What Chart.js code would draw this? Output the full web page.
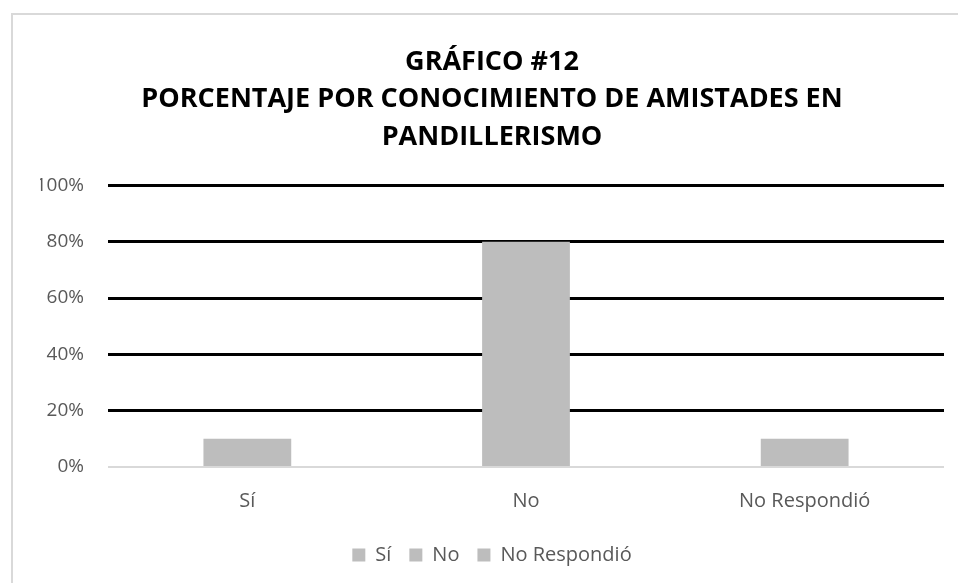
<!DOCTYPE html>
<html>
<head>
<meta charset="utf-8">
<script src="https://cdn.jsdelivr.net/npm/chart.js@4"></script>
<style>
    html, body { margin: 0; padding: 0; background: #fff; }
    #frame {
        position: absolute; left: 11px; top: 13px;
        width: 945px; height: 568px;
        border: 2px solid #d9d9d9;
        border-right: none; border-bottom: none;
    }
    #frame canvas { display: block; }
</style>
</head>
<body>
<div id="frame"><canvas id="chart12" width="945" height="568"></canvas></div>
<script>
const categories = ['Sí', 'No', 'No Respondió'];
const percentages = [0.10, 0.80, 0.10];
const yTicks = [0, 0.2, 0.4, 0.6, 0.8, 1];
const titleLines = ['GRÁFICO #12', 'PORCENTAJE POR CONOCIMIENTO DE AMISTADES EN', 'PANDILLERISMO'];

const barGray = '#bdbdbd';
const textGray = '#595959';

const ctx = document.getElementById('chart12').getContext('2d');
new Chart(ctx, {
    type: 'bar',
    data: {
        labels: categories,
        datasets: [{
            data: percentages,
            backgroundColor: barGray,
            categoryPercentage: 1,
            barPercentage: 0.315
        }]
    },
    options: {
        responsive: false,
        animation: false,
        layout: { padding: { left: 27, right: 14, top: 20, bottom: 8 } },
        scales: {
            x: {
                grid: { display: false },
                border: { display: false },
                ticks: {
                    color: textGray,
                    padding: 14,
                    font: { family: 'Open Sans', size: 20 }
                }
            },
            y: {
                min: 0,
                max: 1,
                afterBuildTicks: axis => { axis.ticks = yTicks.map(v => ({ value: v })); },
                afterFit: axis => { axis.width = 68; },
                grid: {
                    drawTicks: false,
                    color: c => c.tick.value === 0 ? '#d9d9d9' : '#000',
                    lineWidth: c => c.tick.value === 0 ? 2 : 3
                },
                border: { display: false },
                ticks: {
                    color: textGray,
                    padding: 24,
                    font: { family: 'Open Sans', size: 19 },
                    callback: v => Math.round(v * 100) + '%'
                }
            }
        },
        plugins: {
            title: {
                display: true,
                text: titleLines,
                color: '#000',
                font: { family: 'Open Sans', size: 27, weight: 'bold', lineHeight: 1.4 },
                padding: { top: 8, bottom: 29 }
            },
            legend: {
                position: 'bottom',
                labels: {
                    color: textGray,
                    boxWidth: 13,
                    boxHeight: 13,
                    padding: 18,
                    font: { family: 'Open Sans', size: 20 },
                    generateLabels: chart => categories.map((name, i) => ({
                        text: name,
                        fillStyle: barGray,
                        strokeStyle: barGray,
                        lineWidth: 0,
                        fontColor: textGray,
                        index: i
                    }))
                },
                onClick: () => {}
            },
            tooltip: { enabled: false }
        }
    }
});
</script>
</body>
</html>
